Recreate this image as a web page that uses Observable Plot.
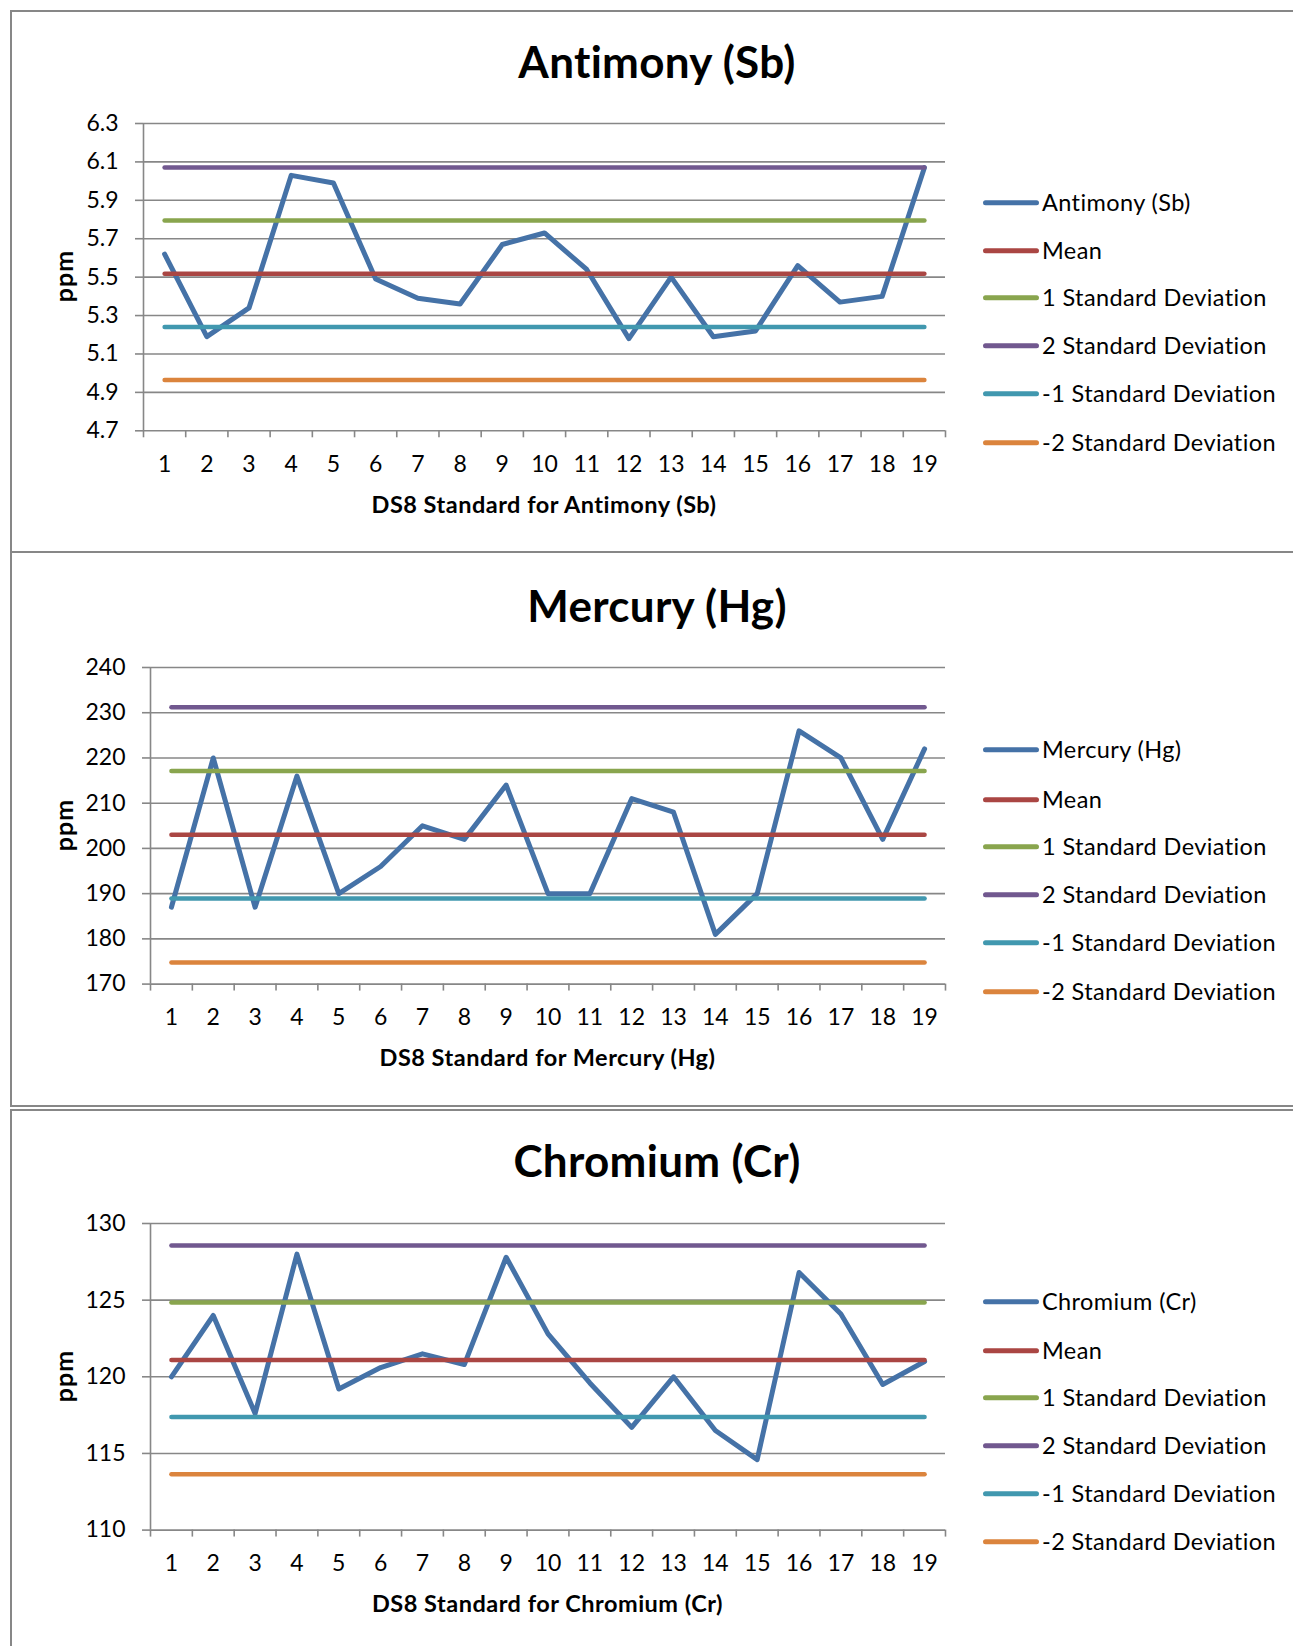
<!DOCTYPE html>
<html>
<head>
<meta charset="utf-8">
<script src="https://cdn.jsdelivr.net/npm/d3@7"></script>
<script src="https://cdn.jsdelivr.net/npm/@observablehq/plot@0.6"></script>
<style>
  html, body { margin: 0; padding: 0; background: #fff; }
  body { width: 1293px; height: 1646px; overflow: hidden; position: relative; font-family: Lato, "Open Sans", sans-serif; color: #000; }
  .frame { position: absolute; left: 10px; width: 1320px; border: 2px solid #878787; box-sizing: border-box; }
  .title { position: absolute; left: 0; width: 1314px; text-align: center; font-weight: 700; font-size: 44px; line-height: 1; white-space: nowrap; letter-spacing: 0.3px; }
  .xlabel { position: absolute; font-weight: 700; font-size: 23.5px; letter-spacing: 0.5px; line-height: 1; white-space: nowrap; transform: translate(-50%, -50%); }
  .ylabel { position: absolute; font-weight: 700; font-size: 25px; letter-spacing: 1px; line-height: 1; white-space: nowrap; transform: translate(-50%, -50%) rotate(-90deg); }
  .chart { position: absolute; left: 0; }
  .legend { position: absolute; left: 983px; }
  .legrow { position: absolute; left: 0; display: flex; align-items: center; white-space: nowrap; font-size: 23.5px; letter-spacing: 0.4px; line-height: 1; transform: translateY(-50%); }
  .swatch { width: 56px; height: 5px; border-radius: 2.5px; margin-right: 3px; }
</style>
</head>
<body>
<script>
// ---------- data ----------
const categories = [1, 2, 3, 4, 5, 6, 7, 8, 9, 10, 11, 12, 13, 14, 15, 16, 17, 18, 19];

const antimony = [5.62, 5.19, 5.34, 6.03, 5.99, 5.49, 5.39, 5.36, 5.67, 5.73, 5.54, 5.18, 5.50, 5.19, 5.22, 5.56, 5.37, 5.40, 6.07];
const mercury  = [187, 220, 187, 216, 190, 196, 205, 202, 214, 190, 190, 211, 208, 181, 190, 226, 220, 202, 222];
const chromium = [120.0, 124.0, 117.6, 128.0, 119.2, 120.6, 121.5, 120.8, 127.8, 122.8, 119.6, 116.7, 120.0, 116.5, 114.6, 126.8, 124.1, 119.5, 121.0];

// Mean, 1 SD, 2 SD, -1 SD, -2 SD
const antimonyStats = [5.518, 5.795, 6.071, 5.240, 4.964];
const mercuryStats  = [203.0, 217.1, 231.2, 188.9, 174.8];
const chromiumStats = [121.1, 124.85, 128.57, 117.37, 113.65];

const statNames = ["Mean", "1 Standard Deviation", "2 Standard Deviation", "-1 Standard Deviation", "-2 Standard Deviation"];

const antimonyTicks = [4.7, 4.9, 5.1, 5.3, 5.5, 5.7, 5.9, 6.1, 6.3];
const mercuryTicks  = [170, 180, 190, 200, 210, 220, 230, 240];
const chromiumTicks = [110, 115, 120, 125, 130];

const titles  = ["Antimony (Sb)", "Mercury (Hg)", "Chromium (Cr)"];
const xLabels = ["DS8 Standard for Antimony (Sb)", "DS8 Standard for Mercury (Hg)", "DS8 Standard for Chromium (Cr)"];
const yLabel  = "ppm";

// ---------- styles ----------
const seriesColor = "#4572A7";
const statColors = ["#AA4643", "#89A54E", "#71588F", "#4198AF", "#DB843D"];
const gridColor = "#878787";

const panels = [
  { name: titles[0], xLabel: xLabels[0], values: antimony, stats: antimonyStats, ticks: antimonyTicks, fmt: d3.format(".1f"),
    frameTop: 10, frameBottom: 553, titleY: 62, plotTop: 122.7, plotBottom: 430, left: 143, legendY: [203, 251, 298, 346, 394, 443] },
  { name: titles[1], xLabel: xLabels[1], values: mercury, stats: mercuryStats, ticks: mercuryTicks, fmt: d3.format("d"),
    frameTop: 551, frameBottom: 1107, titleY: 606, plotTop: 666.7, plotBottom: 983.3, left: 150, legendY: [750, 800, 847, 895, 943, 992] },
  { name: titles[2], xLabel: xLabels[2], values: chromium, stats: chromiumStats, ticks: chromiumTicks, fmt: d3.format("d"),
    frameTop: 1109, frameBottom: 1680, titleY: 1161, plotTop: 1222.7, plotBottom: 1529.3, left: 150, legendY: [1302, 1351, 1398, 1446, 1494, 1542] }
];

const plotRight = 945;
const W = 960;

function el(tag, cls, text) {
  const e = document.createElement(tag);
  if (cls) e.className = cls;
  if (text != null) e.textContent = text;
  document.body.appendChild(e);
  return e;
}

for (const p of panels) {
  const fr = el("div", "frame");
  fr.style.top = p.frameTop + "px";
  fr.style.height = (p.frameBottom - p.frameTop) + "px";

  const t = el("div", "title", p.name);
  t.style.top = (p.titleY - 23) + "px";

  const svgTop = p.plotTop - 20;
  const plotH = p.plotBottom - p.plotTop;
  const svgH = plotH + 20 + 60;

  const rows = categories.map((c, i) => ({ c, v: p.values[i] }));
  const bounds = categories.map(c => c - 0.5).concat([categories[categories.length - 1] + 0.5]);

  const statMarks = p.stats.map((s, k) =>
    Plot.line(categories.map(c => ({ c, v: s })), {
      x: "c", y: "v", stroke: statColors[k], strokeWidth: 4.5, strokeLinecap: "round"
    })
  );

  const chart = Plot.plot({
    width: W,
    height: svgH,
    marginLeft: p.left,
    marginRight: W - plotRight,
    marginTop: 20,
    marginBottom: 60,
    x: { type: "linear", domain: [0.5, 19.5] },
    y: { domain: [p.ticks[0], p.ticks[p.ticks.length - 1]] },
    style: { fontFamily: "Lato, 'Open Sans', sans-serif", fontSize: "23px", color: "#000", background: "transparent", overflow: "visible" },
    marks: [
      Plot.gridY(p.ticks, { stroke: gridColor, strokeOpacity: 1, strokeWidth: 1.6 }),
      Plot.ruleX([0.5], { stroke: gridColor, strokeWidth: 1.6 }),
      Plot.axisY(p.ticks, { tickSize: 8, tickPadding: 17, stroke: gridColor, strokeWidth: 1.6, strokeOpacity: 1, tickFormat: p.fmt, label: null, fontSize: 23 }),
      Plot.axisX(bounds, { tickSize: 7, tickFormat: () => "", stroke: gridColor, strokeWidth: 1.6, strokeOpacity: 1, label: null }),
      Plot.axisX(categories, { tickSize: 0, tickPadding: 25, label: null, fontSize: 23 }),
      Plot.line(rows, { x: "c", y: "v", stroke: seriesColor, strokeWidth: 5, strokeLinejoin: "round", strokeLinecap: "round" }),
      ...statMarks
    ]
  });
  chart.classList.add("chart");
  chart.style.top = svgTop + "px";
  document.body.appendChild(chart);

  const xl = el("div", "xlabel", p.xLabel);
  xl.style.left = ((p.left + plotRight) / 2) + "px";
  xl.style.top = (p.plotBottom + 75) + "px";

  const yl = el("div", "ylabel", yLabel);
  yl.style.left = "63px";
  yl.style.top = ((p.plotTop + p.plotBottom) / 2) + "px";

  const legNames = [p.name].concat(statNames);
  const legColors = [seriesColor].concat(statColors);
  const lg = el("div", "legend");
  legNames.forEach((n, i) => {
    const r = document.createElement("div");
    r.className = "legrow";
    r.style.top = p.legendY[i] + "px";
    const sw = document.createElement("div");
    sw.className = "swatch";
    sw.style.background = legColors[i];
    r.appendChild(sw);
    const tx = document.createElement("span");
    tx.textContent = n;
    r.appendChild(tx);
    lg.appendChild(r);
  });
}
</script>
</body>
</html>
